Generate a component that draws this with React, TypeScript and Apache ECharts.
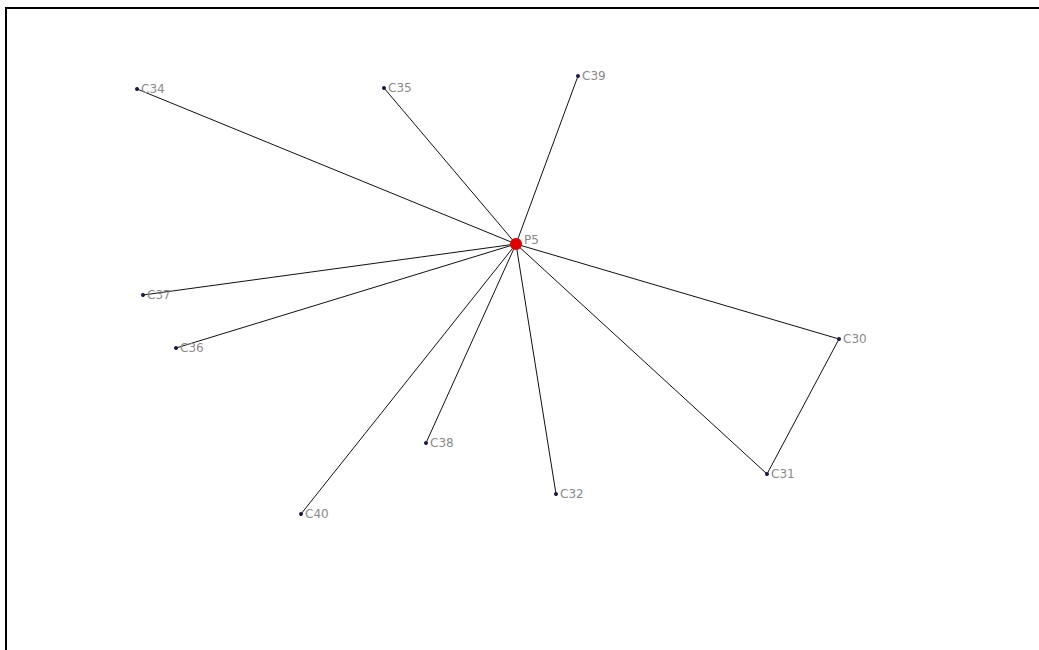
import React, { useEffect, useRef } from "react";
import * as echarts from "echarts";

const nodeNames = ["P5", "C34", "C35", "C39", "C37", "C36", "C38", "C40", "C32", "C31", "C30"];
const nodeX = [516, 137, 384, 578, 143, 176, 426, 301, 556, 767, 839];
const nodeY = [244, 89, 88, 76, 295, 348, 443, 514, 494, 474, 339];
const edgeSources = ["P5", "P5", "P5", "P5", "P5", "P5", "P5", "P5", "P5", "P5", "C30"];
const edgeTargets = ["C34", "C35", "C39", "C37", "C36", "C38", "C40", "C32", "C31", "C30", "C31"];

export default function App() {
  const ref = useRef<HTMLDivElement>(null);
  useEffect(() => {
    document.body.style.margin = "0";
    const chart = echarts.init(ref.current!, undefined, { renderer: "svg" });
    const data = nodeNames.map((n, i) => {
      const isHub = n === "P5";
      return {
        name: n,
        value: [nodeX[i], nodeY[i]],
        symbolSize: isHub ? 12 : 4,
        itemStyle: { color: isHub ? "#e00000" : "#1a1a4a" },
        label: isHub ? { offset: [0, -4] } : {},
      };
    });
    const links = edgeSources.map((s, i) => ({ source: s, target: edgeTargets[i] }));
    chart.setOption({
      animation: false,
      backgroundColor: "#ffffff",
      grid: { left: 0, right: 0, top: 0, bottom: 0 },
      xAxis: { type: "value", min: 0, max: 1039, show: false },
      yAxis: { type: "value", min: 0, max: 650, inverse: true, show: false },
      graphic: [
        { type: "rect", shape: { x: 5, y: 7, width: 1034, height: 2 }, style: { fill: "#000" } },
        { type: "rect", shape: { x: 5, y: 7, width: 2, height: 643 }, style: { fill: "#000" } },
      ],
      series: [
        {
          type: "graph",
          coordinateSystem: "cartesian2d",
          layout: "none",
          symbol: "circle",
          data,
          links,
          lineStyle: { color: "#111111", width: 1, opacity: 1, curveness: 0 },
          label: {
            show: true,
            position: "right",
            distance: 2,
            color: "#8a8a8a",
            fontSize: 12,
            fontFamily: "DejaVu Sans",
            formatter: "{b}",
          },
          emphasis: { disabled: true },
          z: 2,
        },
      ],
    });
    return () => chart.dispose();
  }, []);
  return <div ref={ref} style={{ width: 1039, height: 650 }} />;
}
